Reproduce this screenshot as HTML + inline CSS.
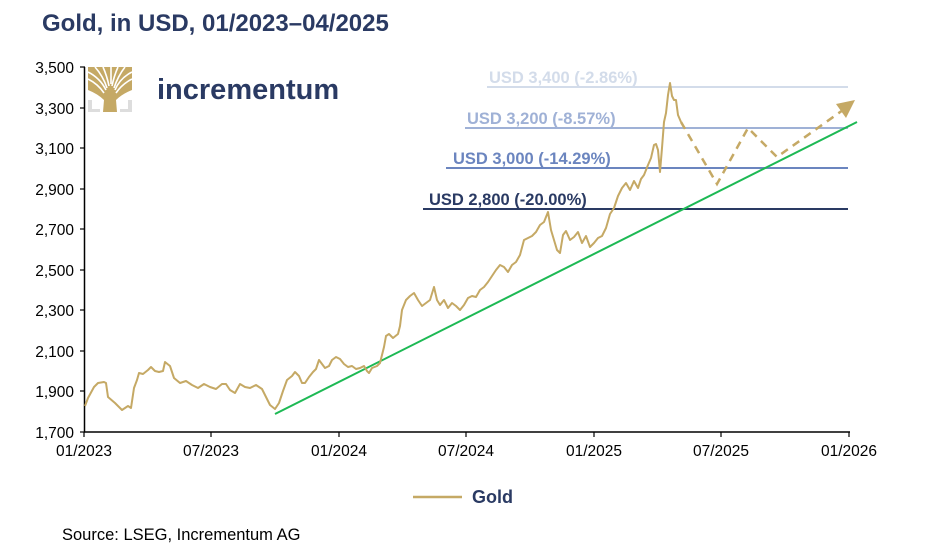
<!DOCTYPE html>
<html><head><meta charset="utf-8"><style>
body{margin:0;background:#fff;width:940px;height:553px;overflow:hidden;font-family:"Liberation Sans",Arial,sans-serif}
</style></head><body>
<svg width="940" height="553" viewBox="0 0 940 553" xmlns="http://www.w3.org/2000/svg" font-family="Liberation Sans, Arial, sans-serif">
<text x="42" y="31" font-size="24" font-weight="bold" fill="#2a3a63">Gold, in USD, 01/2023–04/2025</text>
<!-- logo -->
<g>
<rect x="88" y="100" width="4" height="12" fill="#ddd"/><rect x="88" y="109" width="12" height="3" fill="#ddd"/>
<rect x="128" y="100" width="4" height="12" fill="#ddd"/><rect x="120" y="109" width="12" height="3" fill="#ddd"/>
<path d="M88 67 L132 67 L132 90 Q122 94 116 100 L117 112 L103 112 L104 100 Q98 94 88 90 Z" fill="#c5a965"/>
<g stroke="#fff" stroke-width="1.6" fill="none">
<path d="M88 72 Q100 78 106 90"/><path d="M88 79 Q98 84 104 93"/><path d="M95 67 Q103 76 107 88"/><path d="M103 67 Q107 76 109 86"/><path d="M111 67 L111 84"/><path d="M118 67 Q114 76 112 86"/><path d="M125 67 Q118 76 114 88"/><path d="M132 72 Q120 78 115 90"/><path d="M132 79 Q122 84 116 93"/>
</g>
</g>
<text x="157" y="99" font-size="29" font-weight="bold" fill="#2a3a63">incrementum</text>
<!-- axes -->
<g stroke="#000" stroke-width="1.5" fill="none">
<line x1="84.5" y1="67" x2="84.5" y2="432"/>
<line x1="84" y1="432" x2="850" y2="432"/>
</g>
<g stroke="#000" stroke-width="1.2">
<line x1="80" y1="67" x2="85" y2="67"/><line x1="80" y1="108" x2="85" y2="108"/><line x1="80" y1="148" x2="85" y2="148"/><line x1="80" y1="189" x2="85" y2="189"/><line x1="80" y1="229" x2="85" y2="229"/><line x1="80" y1="270" x2="85" y2="270"/><line x1="80" y1="310" x2="85" y2="310"/><line x1="80" y1="351" x2="85" y2="351"/><line x1="80" y1="391" x2="85" y2="391"/><line x1="80" y1="432" x2="85" y2="432"/>
<line x1="84" y1="432" x2="84" y2="437"/><line x1="211" y1="432" x2="211" y2="437"/><line x1="339" y1="432" x2="339" y2="437"/><line x1="466" y1="432" x2="466" y2="437"/><line x1="594" y1="432" x2="594" y2="437"/><line x1="721" y1="432" x2="721" y2="437"/><line x1="849" y1="432" x2="849" y2="437"/>
</g>
<g font-size="15.5" fill="#000" text-anchor="end">
<text x="74" y="73">3,500</text><text x="74" y="114">3,300</text><text x="74" y="154">3,100</text><text x="74" y="195">2,900</text><text x="74" y="235">2,700</text><text x="74" y="276">2,500</text><text x="74" y="316">2,300</text><text x="74" y="357">2,100</text><text x="74" y="397">1,900</text><text x="74" y="438">1,700</text>
</g>
<g font-size="15.5" fill="#000" text-anchor="middle">
<text x="84" y="456">01/2023</text><text x="211" y="456">07/2023</text><text x="339" y="456">01/2024</text><text x="466" y="456">07/2024</text><text x="594" y="456">01/2025</text><text x="721" y="456">07/2025</text><text x="849" y="456">01/2026</text>
</g>
<!-- levels -->
<line x1="487" y1="87" x2="848" y2="87" stroke="#d3dcea" stroke-width="2"/>
<line x1="465" y1="128" x2="848" y2="128" stroke="#9fb1d6" stroke-width="2"/>
<line x1="446" y1="168" x2="848" y2="168" stroke="#6b85bf" stroke-width="2"/>
<line x1="423" y1="209" x2="848" y2="209" stroke="#2a3a63" stroke-width="2"/>
<g font-size="16.5" font-weight="bold">
<text x="489" y="83" fill="#d3dcea">USD 3,400 (-2.86%)</text>
<text x="467" y="124" fill="#9fb1d6">USD 3,200 (-8.57%)</text>
<text x="453" y="164" fill="#6b85bf">USD 3,000 (-14.29%)</text>
<text x="429" y="205" fill="#2a3a63">USD 2,800 (-20.00%)</text>
</g>
<line x1="275" y1="414" x2="857" y2="122" stroke="#1db954" stroke-width="2"/>
<polyline fill="none" stroke="#c5a965" stroke-width="2" stroke-linejoin="round" points="85,406 88,398 94,387 98,383 104,382 106,383 108,397 115,403 122,410 128,406 131,408 134,388 137,380 139,373 143,374 148,370 151,367 155,371 159,372 163,371 165,362 170,366 174,378 180,383 186,381 192,385 198,388 204,384 210,387 216,389 222,384 226,384 230,390 235,393 240,384 245,387 250,388 256,385 262,389 266,397 270,405 275,409 279,403 283,391 287,380 292,376 295,372 299,376 302,383 305,383 309,377 313,372 316,369 319,360 322,364 325,368 329,366 332,360 336,357 340,359 344,364 348,367 352,366 356,369 360,368 364,366 367,371 369,373 372,368 377,366 380,363 384,347 386,336 389,334 393,338 398,334 400,326 402,310 406,300 410,296 414,293 418,300 422,306 426,303 430,300 434,287 437,300 440,305 444,300 448,308 452,303 456,306 460,310 464,305 468,298 472,296 476,297 480,290 484,287 488,282 492,276 496,270 500,265 504,267 508,272 512,265 516,262 520,255 524,240 528,238 532,236 536,232 540,225 544,222 548,212 551,230 554,240 557,250 560,253 563,235 566,231 570,240 574,237 578,232 582,243 586,236 590,247 594,243 598,238 602,236 606,228 610,214 614,208 618,196 622,188 626,183 630,190 634,181 638,188 641,179 644,175 648,165 651,158 654,145 656,144 658,150 660,172 662,148 664,122 666,113 668,95 670,83 672,96 674,100 676,100 678,115 681,122"/>
<polyline fill="none" stroke="#c5a965" stroke-width="2.5" stroke-dasharray="8,6" points="681,122 717,184 748,128 777,157 843,110"/>
<polygon points="855,100 836,104 846,118" fill="#c5a965"/>
<!-- legend -->
<line x1="413" y1="497" x2="462" y2="497" stroke="#c5a965" stroke-width="2.5"/>
<text x="472" y="503" font-size="18" font-weight="bold" fill="#2a3a63">Gold</text>
<text x="62" y="540" font-size="16.5" fill="#000">Source: LSEG, Incrementum AG</text>
</svg>
</body></html>
